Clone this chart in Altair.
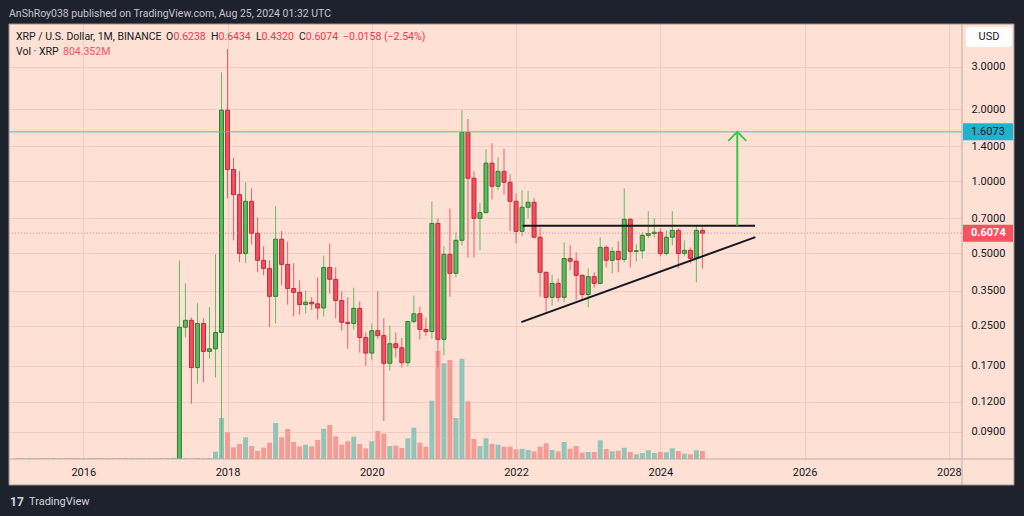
import altair as alt
import pandas as pd
import numpy as np

FONT = "Roboto"
BG = "#fee0d5"
DARK = "#1e222d"
GRID = "#f3cdc1"
LINEC = "#b8aaa4"
UP_FILL, UP_STROKE, UP_WICK = "#5cb85c", "#2f7d34", "#5cbf5c"
DN_FILL, DN_STROKE, DN_WICK = "#f0505e", "#c7283b", "#f55a63"
VOL_UP, VOL_DN = "#92c4b7", "#f69b94"

# ---------------- data (monthly XRP/USD, May 2017 - Aug 2024) ----------------
opens = [
    0.055, 0.246, 0.263, 0.167, 0.255, 0.195, 0.200, 0.234,                      # 2017 May-Dec
    1.98, 1.12, 0.88, 0.50, 0.825, 0.607, 0.468, 0.433, 0.331, 0.573, 0.45, 0.357,  # 2018
    0.344, 0.306, 0.313, 0.308, 0.296, 0.437, 0.39, 0.318, 0.258, 0.255, 0.295, 0.223,  # 2019
    0.192, 0.238, 0.227, 0.174, 0.21, 0.202, 0.175, 0.26, 0.28, 0.241, 0.236, 0.667,  # 2020
    0.219, 0.496, 0.413, 0.567, 1.60, 1.03, 0.70, 0.74, 1.19, 0.953, 1.10, 0.99,  # 2021
    0.825, 0.618, 0.779, 0.817, 0.584, 0.417, 0.328, 0.375, 0.328, 0.476, 0.464, 0.405,  # 2022
    0.337, 0.40, 0.375, 0.53, 0.468, 0.51, 0.472, 0.694, 0.51, 0.513, 0.595, 0.605,  # 2023
    0.613, 0.50, 0.584, 0.624, 0.50, 0.515, 0.477, 0.6238,                      # 2024 Jan-Aug
]
highs = [
    0.468, 0.375, 0.27, 0.31, 0.268, 0.298, 0.496, 2.85,
    3.56, 1.25, 1.10, 0.99, 0.935, 0.707, 0.535, 0.468, 0.786, 0.62, 0.56, 0.455,
    0.386, 0.35, 0.328, 0.397, 0.49, 0.55, 0.437, 0.347, 0.328, 0.36, 0.315, 0.234,
    0.255, 0.347, 0.268, 0.25, 0.234, 0.222, 0.262, 0.334, 0.30, 0.27, 0.825, 0.70,
    0.535, 0.77, 0.612, 1.98, 1.82, 1.10, 0.81, 1.36, 1.44, 1.26, 1.37, 1.07,
    0.89, 0.917, 0.91, 0.85, 0.643, 0.42, 0.409, 0.393, 0.556, 0.54, 0.505, 0.409,
    0.433, 0.417, 0.584, 0.54, 0.53, 0.562, 0.935, 0.70, 0.546, 0.612, 0.75, 0.70,
    0.636, 0.624, 0.75, 0.636, 0.567, 0.53, 0.65, 0.6434,
]
lows = [
    0.05, 0.223, 0.118, 0.143, 0.145, 0.182, 0.152, 0.07,
    0.85, 0.567, 0.46, 0.455, 0.545, 0.417, 0.405, 0.246, 0.255, 0.368, 0.306, 0.273,
    0.278, 0.281, 0.29, 0.265, 0.273, 0.34, 0.268, 0.238, 0.20, 0.24, 0.193, 0.17,
    0.18, 0.22, 0.10, 0.162, 0.184, 0.167, 0.169, 0.255, 0.219, 0.226, 0.22, 0.167,
    0.188, 0.33, 0.397, 0.54, 0.48, 0.48, 0.515, 0.735, 0.84, 0.917, 0.88, 0.62,
    0.55, 0.589, 0.70, 0.58, 0.33, 0.286, 0.303, 0.315, 0.313, 0.425, 0.32, 0.318,
    0.298, 0.36, 0.372, 0.437, 0.413, 0.417, 0.459, 0.437, 0.464, 0.477, 0.578, 0.584,
    0.486, 0.49, 0.54, 0.433, 0.486, 0.454, 0.379, 0.432,
]
closes = [
    0.246, 0.263, 0.167, 0.255, 0.195, 0.200, 0.234, 1.98,
    1.12, 0.88, 0.50, 0.825, 0.607, 0.468, 0.433, 0.331, 0.573, 0.45, 0.357, 0.344,
    0.306, 0.313, 0.308, 0.296, 0.437, 0.39, 0.318, 0.258, 0.255, 0.295, 0.223, 0.192,
    0.238, 0.227, 0.174, 0.21, 0.202, 0.175, 0.26, 0.28, 0.241, 0.236, 0.667, 0.219,
    0.496, 0.413, 0.567, 1.60, 1.03, 0.70, 0.74, 1.19, 0.953, 1.10, 0.99, 0.825,
    0.618, 0.779, 0.817, 0.584, 0.417, 0.328, 0.375, 0.328, 0.476, 0.464, 0.405, 0.337,
    0.40, 0.375, 0.53, 0.468, 0.51, 0.472, 0.694, 0.51, 0.513, 0.595, 0.605, 0.613,
    0.50, 0.584, 0.624, 0.50, 0.515, 0.477, 0.624, 0.6074,
]
volumes = [  # billions XRP
    0.10, 0.08, 0.06, 0.08, 0.06, 0.10, 0.73, 4.10,
    2.67, 1.17, 1.50, 2.17, 1.30, 0.80, 1.13, 1.63, 3.60, 2.17, 3.00, 1.70,
    1.27, 1.43, 1.27, 1.90, 3.03, 3.40, 2.27, 1.43, 1.77, 2.23, 1.50, 1.07,
    1.77, 2.80, 2.53, 1.30, 1.33, 1.10, 2.07, 3.13, 1.63, 1.23, 5.83, 10.80,
    9.57, 9.90, 4.10, 10.03, 5.77, 2.00, 1.30, 2.07, 1.50, 1.43, 1.23, 1.23,
    0.97, 1.03, 0.90, 0.77, 1.23, 1.57, 0.90, 0.77, 1.70, 1.03, 1.30, 0.63,
    0.70, 0.70, 1.87, 1.00, 0.77, 0.83, 1.13, 0.70, 0.47, 0.60, 0.87, 0.60,
    0.70, 0.67, 1.07, 0.80, 0.53, 0.47, 0.87, 0.80,
]
# tiny early volume bars, Feb 2015 - Apr 2017
early_vol = [0.08, 0.07, 0.09, 0.08, 0.07, 0.08, 0.09, 0.08, 0.07, 0.08, 0.08, 0.07, 0.08, 0.09,
             0.08, 0.07, 0.08, 0.08, 0.09, 0.07, 0.08, 0.08, 0.07, 0.08, 0.09, 0.10, 0.12]
early_up = [0, 1, 1, 0, 0, 0, 1, 1, 0, 0, 1, 0, 1, 1, 0, 0, 0, 1, 0, 0, 1, 1, 0, 1, 0, 1, 1]

y_ticks = [3.0, 2.0, 1.4, 1.0, 0.7, 0.5, 0.35, 0.25, 0.17, 0.12, 0.09]
x_ticks = [2016, 2018, 2020, 2022, 2024, 2026, 2028]

resist_t, resist_p = [2022.09, 2025.314], [0.653, 0.653]
support_t, support_p = [2022.073, 2025.318], [0.2585, 0.585]
arrow_t, arrow_from, arrow_to = 2025.067, 0.653, 1.6073
level_price = 1.6073
last_price = 0.6074

# ---------------- frames ----------------
per = pd.period_range("2017-05", "2024-08", freq="M")
df = pd.DataFrame({
    "t": per.year + (per.month - 1) / 12.0,
    "o": opens, "h": highs, "l": lows, "c": closes, "vol": volumes,
})
df["dir"] = np.where(df.c >= df.o, "up", "down")
df["blo"] = np.minimum(df.o, df.c)
df["bhi"] = np.maximum(df.o, df.c)

eper = pd.period_range("2015-02", "2017-04", freq="M")
edf = pd.DataFrame({"t": eper.year + (eper.month - 1) / 12.0, "vol": early_vol,
                    "dir": ["up" if u else "down" for u in early_up]})
vdf = pd.concat([edf, df[["t", "vol", "dir"]]], ignore_index=True)

W, H = 953, 435
xscale = alt.Scale(domain=[2015.04, 2028.113], nice=False, zero=False)
xaxis = alt.Axis(values=x_ticks, format="d", title=None, grid=True, gridColor=GRID,
                 domain=False, ticks=False, labelPadding=7, labelFlush=False,
                 labelFont=FONT, labelFontSize=11, labelColor="#131722", labelOverlap=False)
yscale = alt.Scale(type="log", domain=[0.0694, 4.53], nice=False)
yaxis = alt.Axis(orient="right", values=y_ticks, format=".4f", title=None, grid=True,
                 gridColor=GRID, domain=False, ticks=False, labelPadding=9,
                 labelFont=FONT, labelFontSize=11, labelColor="#131722", labelOverlap=False)


def X(f="t"):
    return alt.X(f"{f}:Q", scale=xscale, axis=xaxis)


def Y(f):
    return alt.Y(f"{f}:Q", scale=yscale, axis=yaxis)


def cond(a, b):
    return alt.condition("datum.dir == 'up'", alt.value(a), alt.value(b))


one = pd.DataFrame({"a": [1]})

vol = alt.Chart(vdf).mark_bar(size=5, clip=True).encode(
    x=X(), y=alt.Y("vol:Q", scale=alt.Scale(domain=[0, 43.5], nice=False, zero=True), axis=None),
    color=cond(VOL_UP, VOL_DN))

wicks = alt.Chart(df).mark_rule(strokeWidth=1, clip=True).encode(
    x=X(), y=Y("l"), y2="h:Q", color=cond(UP_WICK, DN_WICK))
bodies = alt.Chart(df).mark_bar(size=4, strokeWidth=1, clip=True).encode(
    x=X(), y=Y("blo"), y2="bhi:Q", fill=cond(UP_FILL, DN_FILL), stroke=cond(UP_STROKE, DN_STROKE))

lvl = pd.DataFrame({"p": [level_price]})
cyan = alt.Chart(lvl).mark_rule(color="#3fc1d6", strokeWidth=1).encode(
    y=Y("p"), x=alt.value(0), x2=alt.value(W))
lastdf = pd.DataFrame({"p": [last_price]})
reddot = alt.Chart(lastdf).mark_rule(color="#f7525f", strokeWidth=1, strokeDash=[1, 2], opacity=0.7).encode(
    y=Y("p"), x=alt.value(0), x2=alt.value(W))

res = alt.Chart(pd.DataFrame({"t": resist_t, "p": resist_p})).mark_line(
    color="#131722", strokeWidth=2).encode(x=X(), y=Y("p"))
sup = alt.Chart(pd.DataFrame({"t": support_t, "p": support_p})).mark_line(
    color="#131722", strokeWidth=2).encode(x=X(), y=Y("p"))
adf = pd.DataFrame({"t": [arrow_t], "p": [arrow_from], "p2": [arrow_to]})
arrow = alt.Chart(adf).mark_rule(color="#33cc44", strokeWidth=2).encode(
    x=X(), y=Y("p"), y2="p2:Q")
ahead = alt.Chart(pd.DataFrame({"t": [arrow_t], "p": [arrow_to]})).mark_point(
    shape="M-1,1L0,0L1,1", size=324, filled=False, color="#33cc44", strokeWidth=2, opacity=1).encode(
    x=X(), y=Y("p"))

TAGSHAPE = "M-1,-0.34L1,-0.34L1,0.34L-1,0.34Z"
tag1 = alt.Chart(lvl).mark_point(shape=TAGSHAPE, size=2500, filled=True, color="#1fb4cb", opacity=1,
                                 strokeWidth=0).encode(x=alt.value(979), y=Y("p"))
tag1t = alt.Chart(lvl).mark_text(text="1.6073", align="left", baseline="middle", font=FONT,
                                 fontSize=11, color="#131722").encode(x=alt.value(962), y=Y("p"))
tag2 = alt.Chart(lastdf).mark_point(shape=TAGSHAPE, size=2500, filled=True, color="#f7525f", opacity=1,
                                    strokeWidth=0).encode(x=alt.value(979), y=Y("p"))
tag2t = alt.Chart(lastdf).mark_text(text="0.6074", align="left", baseline="middle", font=FONT,
                                    fontSize=11, color="white", fontWeight="bold").encode(x=alt.value(962), y=Y("p"))

price = alt.layer(wicks, bodies, cyan, reddot, res, sup, arrow, ahead, tag1, tag1t, tag2, tag2t)


def rect(x1, x2, y1, y2, **kw):
    return alt.Chart(one).mark_rect(**kw).encode(
        x=alt.value(x1), x2=alt.value(x2), y=alt.value(y1), y2=alt.value(y2))


def rule(x1, x2, y1, y2, color=LINEC):
    return alt.Chart(one).mark_rule(color=color, strokeWidth=1).encode(
        x=alt.value(x1), x2=alt.value(x2), y=alt.value(y1), y2=alt.value(y2))


def text(s, x, y, color="#131722", size=10.5, align="left", weight="normal"):
    return alt.Chart(one).mark_text(text=s, align=align, baseline="middle", font=FONT,
                                    fontSize=size, color=color, fontWeight=weight).encode(
        x=alt.value(x), y=alt.value(y))


RED = "#f23645"
LY = 12.7
deco = [
    rect(W + 0.5, 1005, 436, 461, color=BG),                 # clip "2028"
    rect(-9, 1015, -24, 0, color=DARK),
    rect(-9, 1015, 461, 492, color=DARK),
    rect(-9, 0, -24, 492, color=DARK),
    rect(1005, 1015, -24, 492, color=DARK),
    rect(0, 1005, 0, 461, fillOpacity=0, stroke="#9a8f8b", strokeWidth=1),
    rule(W, W, 0, 461),
    rule(0, 1005, H, H),
    rect(957, 1003, 3, 23, color="white", cornerRadius=3),
    text("USD", 980, 13, align="center", size=11),
    text("AnShRoy038 published on TradingView.com, Aug 25, 2024 01:32 UTC", 0, -10,
         color="#c3c6ce", size=10.5),
    text("XRP / U.S. Dollar, 1M, BINANCE", 7, LY),
    text("O", 157, LY), text("0.6238", 164.5, LY, color=RED),
    text("H", 202, LY), text("0.6434", 209.5, LY, color=RED),
    text("L", 247, LY), text("0.4320", 252.6, LY, color=RED),
    text("C", 290, LY), text("0.6074", 296.8, LY, color=RED),
    text("\u22120.0158 (\u22122.54%)", 334, LY, color=RED),
    text("Vol \u00b7 XRP", 7, 27.7),
    text("804.352M", 54, 27.7, color="#f7525f"),
    text("17", 1, 477.7, color="#d1d4dc", size=12, weight="bold"),
    text("TradingView", 20, 477.7, color="#d1d4dc", size=11),
]

chart = alt.layer(vol, price, *deco).resolve_scale(y="independent").properties(
    width=W, height=H,
    autosize=alt.AutoSizeParams(type="none"),
    padding={"left": 9, "top": 24, "right": 62, "bottom": 57},
    background=BG,
).configure_view(stroke=None)

chart.save("out.html", embed_options={"renderer": "svg", "actions": False})
